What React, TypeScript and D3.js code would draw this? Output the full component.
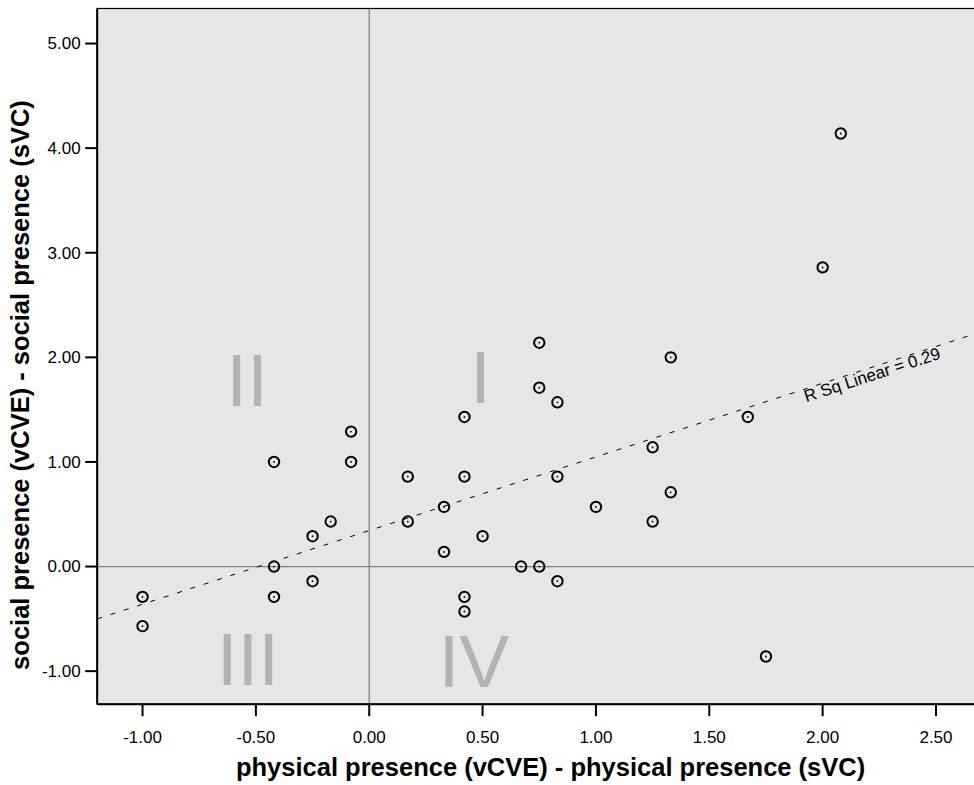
import React from "react";
import * as d3 from "d3";

// physical presence difference (x) and social presence difference (y)
const xValues = [
  -1.0, -1.0, -0.42, -0.42, -0.42, -0.25, -0.25, -0.17, -0.08, -0.08,
  0.17, 0.17, 0.33, 0.33, 0.42, 0.42, 0.42, 0.42, 0.5, 0.67,
  0.75, 0.75, 0.75, 0.83, 0.83, 0.83, 1.0, 1.25, 1.25, 1.33,
  1.33, 1.67, 1.75, 2.0, 2.08,
];
const yValues = [
  -0.29, -0.57, 1.0, 0.0, -0.29, 0.29, -0.14, 0.43, 1.29, 1.0,
  0.86, 0.43, 0.57, 0.14, 1.43, 0.86, -0.29, -0.43, 0.29, 0.0,
  0.0, 2.14, 1.71, 1.57, 0.86, -0.14, 0.57, 1.14, 0.43, 2.0,
  0.71, 1.43, -0.86, 2.86, 4.14,
];

const xTicks = [-1.0, -0.5, 0.0, 0.5, 1.0, 1.5, 2.0, 2.5];
const yTicks = [-1, 0, 1, 2, 3, 4, 5];

// fit line
const fitIntercept = 0.344;
const fitSlope = 0.704;
const fitLabel = "R Sq Linear = 0.29";
const fitLabelAt = 1.91;

const quadLabels = ["I", "II", "III", "IV"];
const quadX = [0.49, -0.539, -0.535, 0.462];
const quadY = [1.562, 1.538, -1.136, -1.152];

const xTitle = "physical presence (vCVE) - physical presence (sVC)";
const yTitle = "social presence (vCVE) - social presence (sVC)";

const W = 974;
const H = 785;
const FONT = "'Liberation Sans', Arial, Helvetica, sans-serif";

export default function App() {
  const x = d3.scaleLinear().domain([-1.2, 2.8]).range([97.2, 1004.0]);
  const y = d3.scaleLinear().domain([-1.316, 5.335]).range([704.2, 8.5]);
  const [x0, x1] = x.range();
  const [yb, yt] = y.range();

  const xd = x.domain();
  const fitPts: [number, number][] = xd.map((v) => [v, fitIntercept + fitSlope * v]);
  const line = d3
    .line<[number, number]>()
    .x((d) => x(d[0]))
    .y((d) => y(d[1]));

  const pxSlope = (y(fitIntercept + fitSlope) - y(fitIntercept)) / (x(1) - x(0));
  const angle = (Math.atan(pxSlope) * 180) / Math.PI;
  const lx = x(fitLabelAt);
  const ly = y(fitIntercept + fitSlope * fitLabelAt);

  const points = xValues.map((v, i) => [v, yValues[i]] as [number, number]);

  return (
    <svg
      width={W}
      height={H}
      style={{ position: "absolute", left: 0, top: 0, background: "#fff" }}
      fontFamily={FONT}
    >
      <defs>
        <clipPath id="plot">
          <rect x={x0} y={yt} width={x1 - x0} height={yb - yt} />
        </clipPath>
      </defs>
      <rect x={x0} y={yt} width={x1 - x0} height={yb - yt} fill="#e6e6e6" stroke="#000" strokeWidth={1.2} />

      <g clipPath="url(#plot)">
        {quadLabels.map((t, i) => (
          <text
            key={t}
            x={x(quadX[i])}
            y={y(quadY[i])}
            textAnchor="middle"
            fontSize={75}
            fill="#b3b3b3"
          >
            {t}
          </text>
        ))}
        <line x1={x(0)} x2={x(0)} y1={yt} y2={yb} stroke="#808080" strokeWidth={1.3} />
        <line x1={x0} x2={x1} y1={y(0)} y2={y(0)} stroke="#808080" strokeWidth={1.3} />
        <path d={line(fitPts) || ""} fill="none" stroke="#000" strokeWidth={1} strokeDasharray="5,9" />
        <g transform={`translate(${lx},${ly}) rotate(${angle})`}>
          <text x={0} y={13} fontSize={17} fill="#000">
            {fitLabel}
          </text>
        </g>
        {points.map((p, i) => (
          <g key={i}>
            <circle cx={x(p[0])} cy={y(p[1])} r={5.2} fill="none" stroke="#000" strokeWidth={2} />
            <circle cx={x(p[0])} cy={y(p[1])} r={0.9} fill="#000" />
          </g>
        ))}
      </g>

      {/* axes */}
      <line x1={x0} x2={x0} y1={yt} y2={yb} stroke="#000" strokeWidth={2} />
      <line x1={x0} x2={x1} y1={yb} y2={yb} stroke="#000" strokeWidth={2} />
      {yTicks.map((t) => (
        <g key={t}>
          <line x1={x0 - 12} x2={x0} y1={y(t)} y2={y(t)} stroke="#000" strokeWidth={2} />
          <text x={x0 - 16.5} y={y(t)} dy="0.35em" textAnchor="end" fontSize={17} fill="#000">
            {t.toFixed(2)}
          </text>
        </g>
      ))}
      {xTicks.map((t) => (
        <g key={t}>
          <line x1={x(t)} x2={x(t)} y1={yb} y2={yb + 12} stroke="#000" strokeWidth={2} />
          <text x={x(t)} y={742.5} textAnchor="middle" fontSize={17} fill="#000">
            {t.toFixed(2)}
          </text>
        </g>
      ))}
      <text x={(x0 + x1) / 2} y={776} textAnchor="middle" fontSize={25.5} fontWeight="bold" fill="#000">
        {xTitle}
      </text>
      <text
        transform={`translate(29,385) rotate(-90)`}
        textAnchor="middle"
        fontSize={25.5}
        fontWeight="bold"
        fill="#000"
      >
        {yTitle}
      </text>
    </svg>
  );
}
